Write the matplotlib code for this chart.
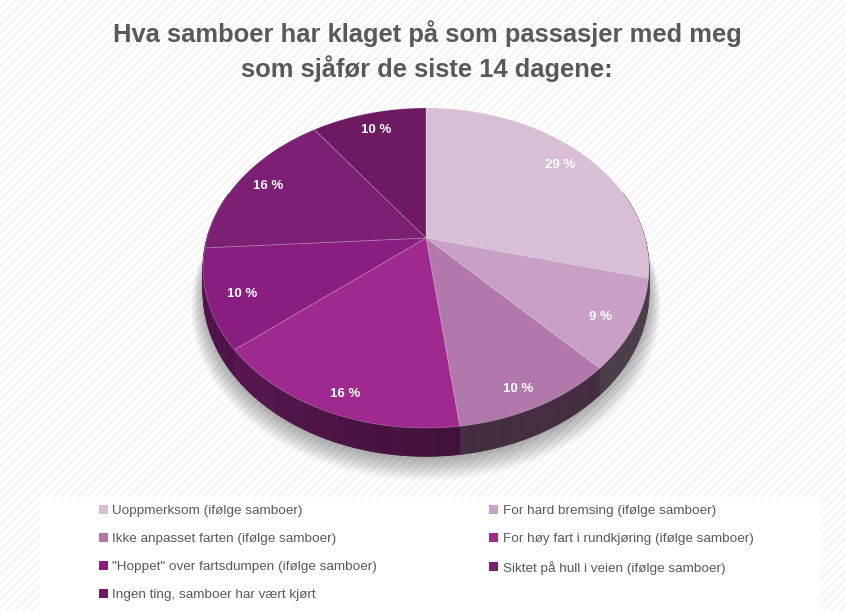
import numpy as np
import matplotlib.pyplot as plt
import matplotlib.colors as mcolors
from matplotlib.patches import Polygon, Rectangle, Patch

categories = [
    "Uoppmerksom (ifølge samboer)",
    "For hard bremsing (ifølge samboer)",
    "Ikke anpasset farten (ifølge samboer)",
    "For høy fart i rundkjøring (ifølge samboer)",
    "\"Hoppet\" over fartsdumpen (ifølge samboer)",
    "Siktet på hull i veien (ifølge samboer)",
    "Ingen ting, samboer har vært kjørt",
]
shares = [29, 9, 10, 16, 10, 16, 10]
colors = ["#d8bfd6", "#c8a0c5", "#b277ab", "#a0298f", "#8a1e80", "#7d1f74", "#6e1a63"]
title = "Hva samboer har klaget på som passasjer med meg\nsom sjåfør de siste 14 dagene:"

plt.rcParams['font.family'] = ["Liberation Sans", "DejaVu Sans"]

# perspective-tilted disc, screen pixels
cx, cy = 426, 238
sx, sy, persp = 219, 154.4, 0.1875
depth0 = 23


def project(theta, r=1.0):
    X = r * np.sin(theta)
    Y = -r * np.cos(theta)
    d = 1 - persp * Y
    return cx + sx * X / d, cy + sy * Y / d


def depth(theta):
    Y = -np.cos(theta)
    return depth0 / (1 - persp * Y)


def side_factor(deg):
    if deg < 172:
        return 0.38
    return min(0.40 + (deg - 172) / 94 * 0.25, 0.65)


fig = plt.figure(figsize=(8.46, 6.10), dpi=100)
ax = fig.add_axes([0, 0, 1, 1])
ax.set_xlim(0, 846)
ax.set_ylim(610, 0)
ax.axis('off')

plt.rcParams['hatch.linewidth'] = 0.8
ax.add_patch(Rectangle((0, 0), 846, 610, facecolor='white', edgecolor='#efefef',
                       hatch='////', linewidth=0, zorder=0))

total = sum(shares)
bounds = np.concatenate([[0], np.cumsum(shares)]) / total * 2 * np.pi

# soft shadow under the pie
full = np.linspace(0, 2 * np.pi, 300)
for k in range(14):
    px, py = project(full, 1.0 + 0.004 * k)
    py = py + depth(full) + 3 + 0.7 * k
    ax.add_patch(Polygon(np.column_stack([px, py]), closed=True, facecolor='black',
                         edgecolor='none', alpha=0.022, zorder=1))

# side walls
for i in range(len(shares)):
    t = np.linspace(bounds[i], bounds[i + 1], max(int(np.degrees(bounds[i + 1] - bounds[i])), 2) + 1)
    base = np.array(mcolors.to_rgb(colors[i]))
    for a, b in zip(t[:-1], t[1:]):
        if np.cos(a) > 0.3 and np.cos(b) > 0.3:
            continue
        x1, y1 = project(a)
        x2, y2 = project(b)
        col = base * side_factor(np.degrees((a + b) / 2))
        ax.add_patch(Polygon([(x1, y1), (x2, y2), (x2, y2 + depth(b)), (x1, y1 + depth(a))],
                             closed=True, facecolor=col, edgecolor=col, linewidth=0.6, zorder=2))

# top faces and labels
for i in range(len(shares)):
    t = np.linspace(bounds[i], bounds[i + 1], 120)
    px, py = project(t)
    pts = np.vstack([[cx, cy], np.column_stack([px, py])])
    ax.add_patch(Polygon(pts, closed=True, facecolor=colors[i], edgecolor=(1, 1, 1, 0.25),
                         linewidth=0.6, zorder=3))
    mid = (bounds[i] + bounds[i + 1]) / 2
    lx, ly = project(mid, 0.85)
    ly += 0.5 * depth(mid) * max(0.0, -np.cos(mid))
    ax.text(lx, ly, f"{shares[i]} %", ha='center', va='center', color='white',
            fontsize=9.5, fontweight='bold', zorder=4)

ax.text(427, 51, title, ha='center', va='center', fontsize=18.4, fontweight='bold',
        color='#595959', linespacing=1.35, zorder=4)

# legend box
ax.add_patch(Rectangle((40, 497), 780, 115, facecolor='white', edgecolor='none', zorder=1))
handles = [Patch(facecolor=c, edgecolor='none') for c in colors]
order = [0, 2, 4, 6, 1, 3, 5]
fig.legend([handles[j] for j in order], [categories[j] for j in order],
           loc='upper left', bbox_to_anchor=(99 / 846, 1 - 505 / 610), ncol=2,
           frameon=False, fontsize=9.7, handlelength=0.65, handleheight=0.65,
           handletextpad=0.35, labelspacing=1.16, columnspacing=8.3,
           borderpad=0, borderaxespad=0, labelcolor='#595959')

fig.savefig("out.png", dpi=100, facecolor='white')
